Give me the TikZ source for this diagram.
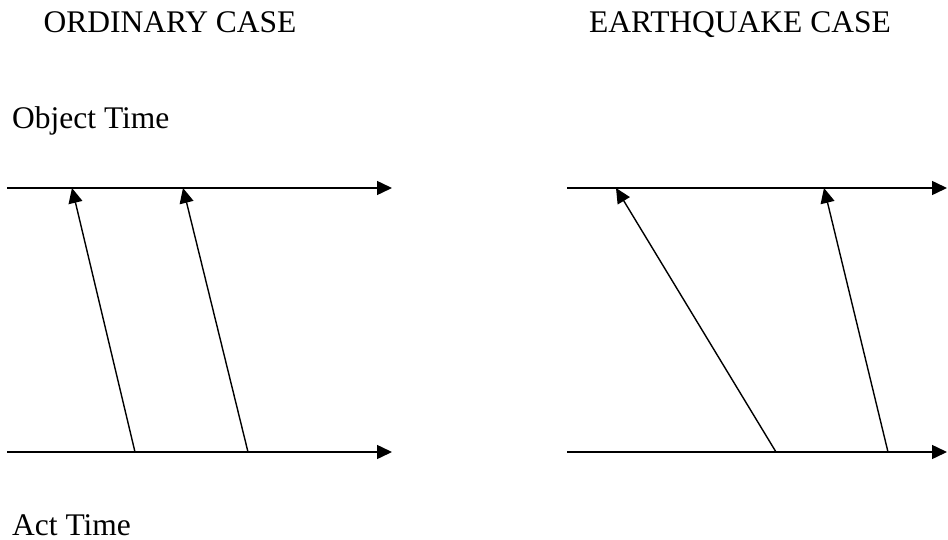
\documentclass[tikz,border=0pt]{standalone}
\usepackage{fontspec}
\setmainfont{Liberation Serif}
\usetikzlibrary{arrows.meta}
\begin{document}
\begin{tikzpicture}[x=1pt,y=-1pt,
  axis/.style={line width=1.5pt,-{Triangle[length=15pt,width=14pt]}},
  link/.style={line width=1.4pt,-{Triangle[length=15pt,width=14pt]}},
  lbl/.style={font=\fontsize{31.5}{36}\selectfont,inner sep=0pt,text depth=0pt}]
\useasboundingbox (0,0) rectangle (948,540);
% titles
\node[lbl,anchor=base] (t1) at (170,33) {ORDINARY CASE};
\node[lbl,anchor=base] (t2) at (740,33) {EARTHQUAKE CASE};
\node[lbl,anchor=base west] (ot) at (12,129) {Object Time};
\node[lbl,anchor=base west] (at) at (12,535) {Act Time};
% axes
\coordinate (LTs) at (7,188);   \coordinate (LTe) at (392,188);
\coordinate (LBs) at (7,452);   \coordinate (LBe) at (392,452);
\coordinate (RTs) at (567,188); \coordinate (RTe) at (947,188);
\coordinate (RBs) at (567,452); \coordinate (RBe) at (947,452);
\draw[axis] (LTs) -- (LTe);
\draw[axis] (LBs) -- (LBe);
\draw[axis] (RTs) -- (RTe);
\draw[axis] (RBs) -- (RBe);
% left links
\coordinate (a1) at (135,452); \coordinate (b1) at (72,188);
\coordinate (a2) at (248,452); \coordinate (b2) at (183,188);
\draw[link] (a1) -- (b1);
\draw[link] (a2) -- (b2);
% right links
\coordinate (a3) at (776,452); \coordinate (b3) at (616,188);
\coordinate (a4) at (888,452); \coordinate (b4) at (824,188);
\draw[link] (a3) -- (b3);
\draw[link] (a4) -- (b4);
\end{tikzpicture}
\end{document}
